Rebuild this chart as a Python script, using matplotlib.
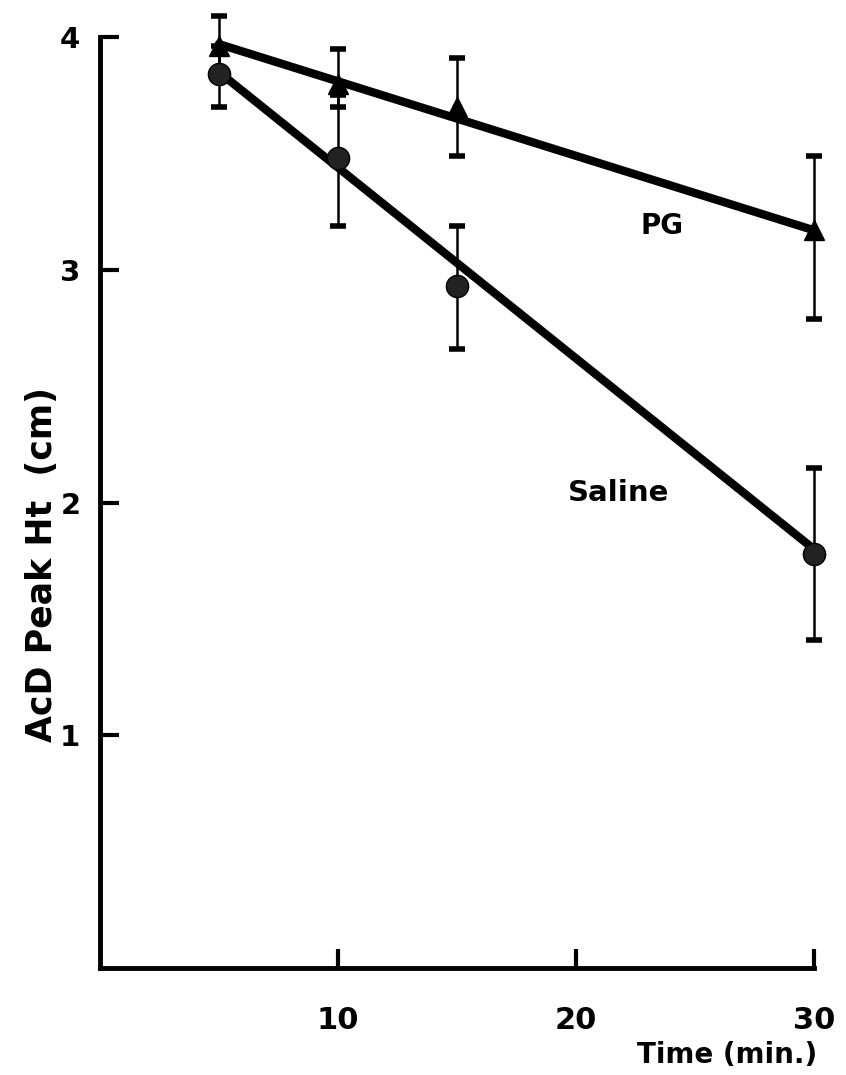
import matplotlib
matplotlib.use("Agg")
import matplotlib.pyplot as plt

# Data
time_min = [5, 10, 15, 30]
pg_mean = [3.96, 3.80, 3.70, 3.17]
pg_err_low = [0.10, 0.10, 0.21, 0.38]
pg_err_high = [0.13, 0.15, 0.21, 0.32]
saline_mean = [3.84, 3.48, 2.93, 1.78]
saline_err_low = [0.14, 0.29, 0.27, 0.37]
saline_err_high = [0.12, 0.27, 0.26, 0.37]
fit_x = [5, 30]
pg_fit = [3.97, 3.17]
saline_fit = [3.85, 1.80]
x_ticks = [10, 20, 30]
y_ticks = [1, 2, 3, 4]

plt.rcParams['font.family'] = ['DejaVu Sans']
plt.rcParams['font.weight'] = 'bold'

fig = plt.figure(figsize=(8.46, 10.75), dpi=100)
ax = fig.add_axes([0.118, 0.0995, 0.844, 0.866])

ax.plot(fit_x, pg_fit, color='black', lw=6, solid_capstyle='round', zorder=3, clip_on=False)
ax.plot(fit_x, saline_fit, color='black', lw=6, solid_capstyle='round', zorder=3, clip_on=False)

ax.errorbar(time_min, pg_mean, yerr=[pg_err_low, pg_err_high], fmt='^', color='black',
            ms=14, ecolor='black', elinewidth=1.8, capsize=5.5, capthick=4, zorder=4, clip_on=False)
ax.errorbar(time_min, saline_mean, yerr=[saline_err_low, saline_err_high], fmt='o', color='black',
            mfc='#222222', ms=16, ecolor='black', elinewidth=1.8, capsize=5.5, capthick=4, zorder=4,
            clip_on=False)

ax.text(23.6, 3.19, 'PG', fontsize=20, fontweight='bold', ha='center', va='center')
ax.text(21.8, 2.04, 'Saline', fontsize=21, fontweight='bold', ha='center', va='center')

ax.set_xlim(0, 30)
ax.set_ylim(0, 4)
ax.set_xticks(x_ticks)
ax.set_yticks(y_ticks)
ax.set_xticklabels([str(t) for t in x_ticks], fontsize=22, fontweight='bold')
ax.set_yticklabels([str(t) for t in y_ticks], fontsize=21, fontweight='bold')
ax.tick_params(axis='both', direction='in', length=14, width=3, colors='black')
ax.tick_params(axis='x', pad=27)
ax.tick_params(axis='y', pad=14)

for s in ['top', 'right']:
    ax.spines[s].set_visible(False)
for s in ['left', 'bottom']:
    ax.spines[s].set_linewidth(3.5)

fig.text(0.86, 1 - 1055/1075, 'Time (min.)', fontsize=20, fontweight='bold', ha='center', va='center')
fig.text(42/846, 1 - 565/1075, 'AcD Peak Ht  (cm)', fontsize=25, fontweight='bold',
         ha='center', va='center', rotation=90)

fig.savefig('out.png', dpi=100, facecolor='white')
